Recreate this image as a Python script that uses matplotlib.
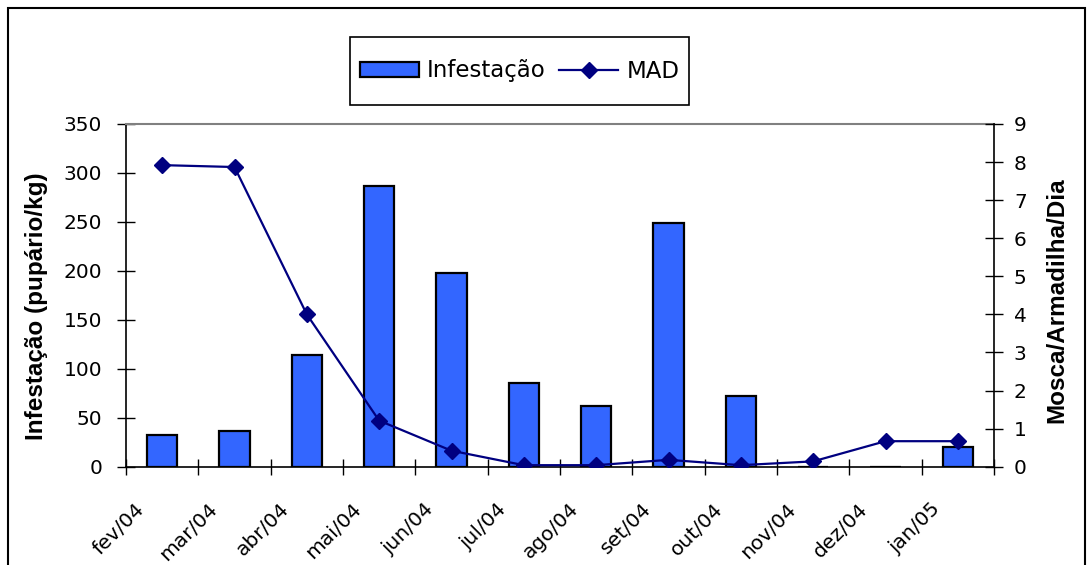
import matplotlib
matplotlib.use("Agg")
import matplotlib.pyplot as plt
import matplotlib.transforms as mtransforms
from matplotlib.patches import Rectangle

# Dados
meses = ["fev/04", "mar/04", "abr/04", "mai/04", "jun/04", "jul/04",
         "ago/04", "set/04", "out/04", "nov/04", "dez/04", "jan/05"]
infestacao = [32, 36, 114, 287, 198, 85, 62, 249, 72, 0, 0, 20]
mad = [7.92, 7.87, 4.0, 1.21, 0.42, 0.04, 0.04, 0.18, 0.04, 0.14, 0.67, 0.67]

W, H = 1088, 565
fig = plt.figure(figsize=(W / 100, H / 100), dpi=100)

# Eixos (posição em pixels convertida para fração da figura)
left, right, top, bottom = 126, 994, 124, 466.7
ax = fig.add_axes([left / W, 1 - bottom / H, (right - left) / W, (bottom - top) / H])

x = list(range(len(meses)))
ax.bar(x, infestacao, width=0.42, color="#3366FF", edgecolor="black",
       linewidth=1.6, label="Infestação", zorder=2)
ax.set_ylim(0, 350)
ax.set_yticks(range(0, 351, 50))
ax.set_xlim(-0.5, len(meses) - 0.5)

# ticks nos limites entre categorias
pos = [i - 0.5 for i in range(len(meses) + 1)]
ax.set_xticks(pos)
ax.set_xticklabels(meses + [""], rotation=45, ha="right", va="top",
                   rotation_mode="anchor", fontsize=14.5)
ax.tick_params(axis="x", direction="inout", length=11, width=1, pad=18)
ax.tick_params(axis="y", direction="inout", length=13.5, width=1, pad=10.5,
               labelsize=14.5)

offset = mtransforms.ScaledTranslation(0.09, 0, fig.dpi_scale_trans)
for lbl in ax.get_xticklabels():
    lbl.set_transform(lbl.get_transform() + offset)

ax2 = ax.twinx()
ax2.plot(x, mad, color="#000080", marker="D", markersize=8, linewidth=1.6,
         label="MAD", zorder=3)
ax2.set_ylim(0, 9)
ax2.set_yticks(range(0, 10))
ax2.tick_params(axis="y", direction="inout", length=13.5, width=1, pad=7.6,
                labelsize=14.5)

# bordas
ax.spines["right"].set_visible(False)
ax.spines["top"].set_color("#808080")
ax.spines["top"].set_linewidth(1.5)
for s in ["left", "bottom"]:
    ax.spines[s].set_linewidth(1.2)
for s in ["top", "bottom", "left"]:
    ax2.spines[s].set_visible(False)
ax2.spines["right"].set_linewidth(1.2)

# títulos dos eixos
fig.text(36.5 / W, 1 - 306.5 / H, "Infestação (pupário/kg)", rotation=90,
         ha="center", va="center", fontsize=17.5, fontweight="bold",
         family="Liberation Sans")
fig.text(1057 / W, 1 - 300 / H, "Mosca/Armadilha/Dia", rotation=90,
         ha="center", va="center", fontsize=17.5, fontweight="bold",
         family="Liberation Sans")

# legenda com caixa própria
lx0, lx1, ly0, ly1 = 350, 689, 37, 105
fig.add_artist(Rectangle((lx0 / W, 1 - ly1 / H), (lx1 - lx0) / W, (ly1 - ly0) / H,
                         transform=fig.transFigure, fill=False,
                         edgecolor="black", linewidth=1.2))
h1, l1 = ax.get_legend_handles_labels()
h2, l2 = ax2.get_legend_handles_labels()
fig.legend(h1 + h2, l1 + l2, loc="center", ncol=2, frameon=False,
           bbox_to_anchor=((lx0 + lx1) / 2 / W, 1 - (ly0 + ly1) / 2 / H),
           fontsize=16.5, handlelength=2.58, handleheight=0.65,
           handletextpad=0.35, columnspacing=0.6, borderpad=0)

# moldura externa do gráfico
fig.add_artist(Rectangle((8 / W, -0.2), (1085 - 8) / W, 1.2 - 8 / H,
                         transform=fig.transFigure, fill=False,
                         edgecolor="black", linewidth=1.5, clip_on=False))

fig.savefig("out.png", dpi=100)
